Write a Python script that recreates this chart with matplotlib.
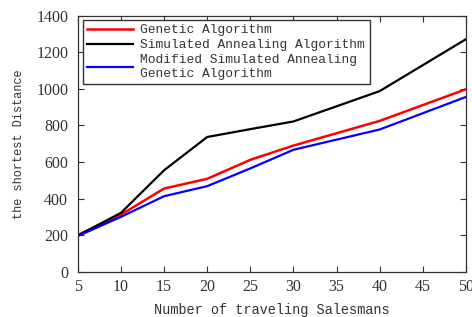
import matplotlib
matplotlib.use("Agg")
import matplotlib.pyplot as plt

x = [5, 10, 15, 20, 25, 30, 40, 50]
ga = [200, 312, 455, 508, 612, 690, 825, 998]
sa = [198, 322, 555, 737, 780, 822, 988, 1272]
msaga = [195, 300, 413, 468, 565, 667, 778, 956]

labels = ["Genetic Algorithm", "Simulated Annealing Algorithm",
          "Modified Simulated Annealing\nGenetic Algorithm"]
xticks = [5, 10, 15, 20, 25, 30, 35, 40, 45, 50]
yticks = [0, 200, 400, 600, 800, 1000, 1200, 1400]

fig = plt.figure(figsize=(4.72, 3.17), dpi=100)
ax = fig.add_axes([0.165, 0.143, 0.822, 0.807])

ax.plot(x, ga, color="red", lw=1.8, label=labels[0])
ax.plot(x, sa, color="black", lw=1.6, label=labels[1])
ax.plot(x, msaga, color="blue", lw=1.6, label=labels[2])

ax.set_xlim(5, 50)
ax.set_ylim(0, 1400)
ax.set_xticks(xticks)
ax.set_yticks(yticks)
ax.tick_params(direction="in", top=True, right=True, length=4, width=0.8,
               colors="#333333", labelsize=11.5)
ax.tick_params(axis="x", pad=5)
ax.tick_params(axis="y", pad=7)
for lab in ax.get_xticklabels() + ax.get_yticklabels():
    lab.set_fontfamily("Liberation Serif")
    lab.set_color("#333333")
for s in ax.spines.values():
    s.set_color("#333333")
    s.set_linewidth(0.9)

ax.set_xlabel("Number of traveling Salesmans", fontfamily="Liberation Mono",
              fontsize=9.8, color="#333333", labelpad=6)
ax.set_ylabel("the shortest Distance", fontfamily="Liberation Mono",
              fontsize=8.6, color="#333333", labelpad=8)

leg = ax.legend(loc="upper left", bbox_to_anchor=(0.012, 0.985), frameon=True,
                fancybox=False, edgecolor="#333333", framealpha=1,
                prop={"family": "Liberation Mono", "size": 9.25},
                handlelength=3.6, handletextpad=0.55, labelspacing=0.22,
                borderpad=0.35, borderaxespad=0.0)
leg.get_frame().set_linewidth(1.0)
for t in leg.get_texts():
    t.set_color("#333333")

fig.savefig("out.png", dpi=100)
